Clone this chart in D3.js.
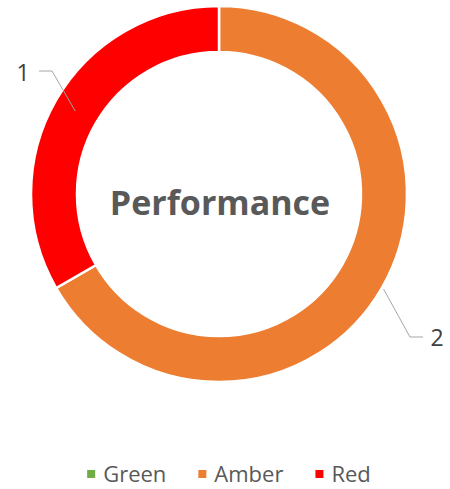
<!DOCTYPE html>
<html>
<head>
<meta charset="utf-8">
<script src="https://cdn.jsdelivr.net/npm/d3@7"></script>
<style>
  body { margin: 0; background: #fff; }
  svg text { font-family: "Open Sans", "Noto Sans", sans-serif; }
</style>
</head>
<body>
<div id="chart"></div>
<script>
// data
let categories = ['Green', 'Amber', 'Red'];
let values = [0, 2, 1];
let colors = ['#70AD47', '#ED7D31', '#FF0000'];
let centerTitle = 'Performance';

let width = 450, height = 489;
let cx = 219, cy = 194;
let outerR = 188, innerR = 142;

let svg = d3.select('#chart').append('svg')
    .attr('width', width)
    .attr('height', height);

let g = svg.append('g').attr('transform', 'translate(' + cx + ',' + cy + ')');

let pie = d3.pie().sort(null).value(d => d.value);
let arc = d3.arc().innerRadius(innerR).outerRadius(outerR);

let data = categories.map((c, i) => ({name: c, value: values[i], color: colors[i]}));
let arcs = pie(data);

g.selectAll('path')
    .data(arcs.filter(d => d.value > 0))
    .enter()
    .append('path')
    .attr('d', arc)
    .attr('fill', d => d.data.color)
    .attr('stroke', '#fff')
    .attr('stroke-width', 2.5);

// center title
g.append('text')
    .attr('x', 1)
    .attr('y', 21)
    .attr('text-anchor', 'middle')
    .attr('font-size', 34)
    .attr('font-weight', 'bold')
    .attr('fill', '#595959')
    .text(centerTitle);

// data labels with leader lines
let labelLayout = {
    Red:   {r: 166, bend: [-167, -123], tail: [-180, -123], text: [-196, -113]},
    Amber: {r: 190, bend: [191, 143], tail: [204, 143], text: [218, 152]}
};

arcs.filter(d => d.value > 0).forEach(d => {
    let lay = labelLayout[d.data.name];
    let a = (d.startAngle + d.endAngle) / 2;
    let p0 = [lay.r * Math.sin(a), -lay.r * Math.cos(a)];
    g.append('path')
        .attr('d', d3.line()([p0, lay.bend, lay.tail]))
        .attr('fill', 'none')
        .attr('stroke', '#A6A6A6')
        .attr('stroke-width', 1);
    g.append('text')
        .attr('x', lay.text[0])
        .attr('y', lay.text[1])
        .attr('text-anchor', 'middle')
        .attr('font-size', 23)
        .attr('fill', '#404040')
        .text(d3.format('d')(d.value));
});

// legend
let legend = svg.append('g');
let lx = 0;
data.forEach((d, i) => {
    let item = legend.append('g').attr('transform', 'translate(' + lx + ',0)');
    item.append('rect')
        .attr('x', 0).attr('y', -4)
        .attr('width', 8).attr('height', 8)
        .attr('fill', d.color);
    let t = item.append('text')
        .attr('x', 16)
        .attr('y', 8)
        .attr('font-size', 22)
        .attr('fill', '#595959')
        .text(d.name);
    lx += 16 + t.node().getComputedTextLength() + 32;
});
let legendW = lx - 32;
legend.attr('transform', 'translate(' + (229 - legendW / 2) + ',474)');
</script>
</body>
</html>
